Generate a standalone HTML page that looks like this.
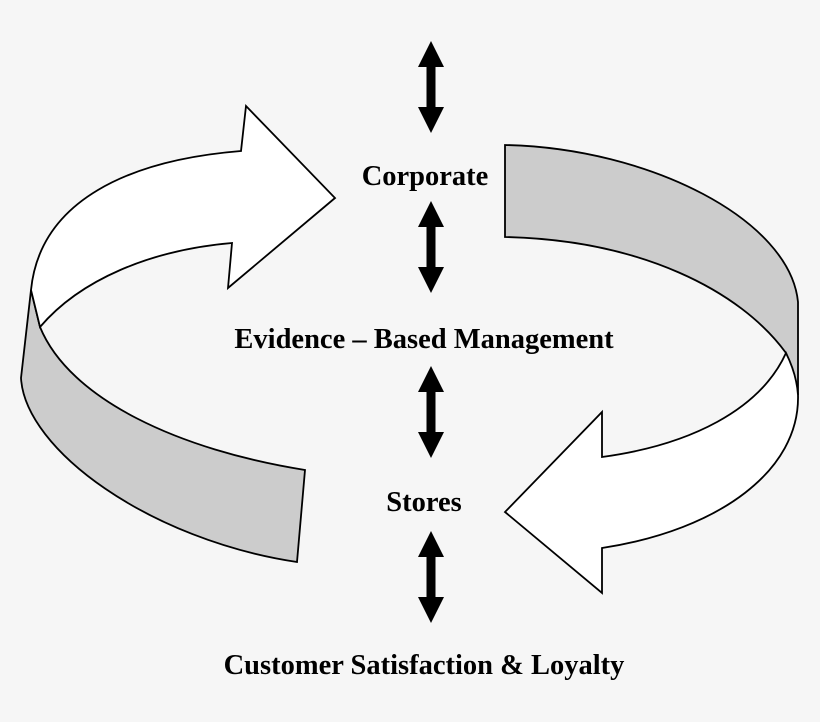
<!DOCTYPE html>
<html><head><style>
html,body{margin:0;padding:0;background:#f6f6f6;}
svg{display:block}
text{font-family:"Liberation Serif",serif;font-weight:bold;font-size:28.5px;fill:#000}
</style></head><body>
<svg width="820" height="722" viewBox="0 0 820 722">
<rect width="820" height="722" fill="#f6f6f6"/>
<defs>
<g id="da"><polygon points="0,0 13,26 4.5,26 4.5,66 13,66 0,92 -13,66 -4.5,66 -4.5,26 -13,26" fill="#000"/></g>
</defs>
<path d="M31,290 L21,378 C25,450 150,540 297,562 L305,470 C180,450 70,400 40,327 Z" fill="#cccccc" stroke="#000" stroke-width="1.8"/>
<path d="M40,327 C80,280 150,250 232,243 L228,288 L335,198 L246,106 L241,151 C130,160 40,200 31,290 Z" fill="#fff" stroke="#000" stroke-width="1.8"/>
<path d="M505,145 C650,148 790,220 798,302 L798,395 C795,380 790,362 786,353 C740,290 640,240 505,237 Z" fill="#cccccc" stroke="#000" stroke-width="1.8"/>
<path d="M786,353 C760,410 690,445 602,457 L602,412 L505,512 L602,593 L602,548 C720,530 800,470 798,395 C797,380 792,365 786,353 Z" fill="#fff" stroke="#000" stroke-width="1.8"/>
<use href="#da" x="431" y="41"/>
<use href="#da" x="431" y="201"/>
<use href="#da" x="431" y="366"/>
<use href="#da" x="431" y="531"/>
<text x="425" y="185" text-anchor="middle">Corporate</text>
<text x="424" y="348" text-anchor="middle">Evidence – Based Management</text>
<text x="424" y="511" text-anchor="middle">Stores</text>
<text x="424" y="674" text-anchor="middle">Customer Satisfaction &amp; Loyalty</text>
</svg>
</body></html>
